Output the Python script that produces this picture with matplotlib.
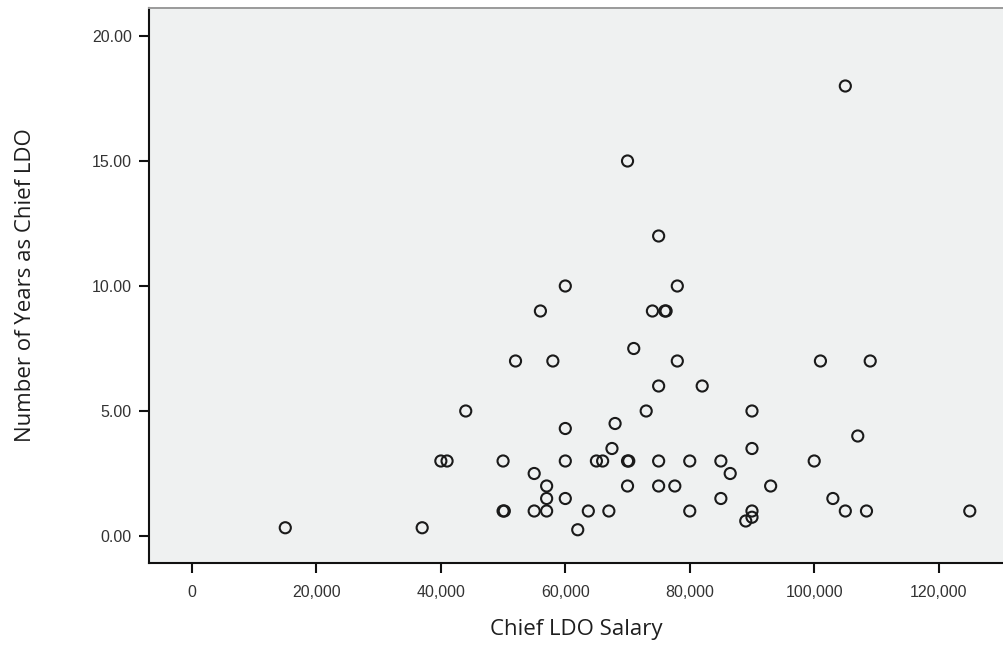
import matplotlib
matplotlib.use("Agg")
import matplotlib.pyplot as plt
from matplotlib.ticker import FuncFormatter

# Chief LDO salary vs years in the job
salary = [15000, 37000, 40000, 41000, 44000, 50000, 50000, 50200, 52000,
          55000, 55000, 56000, 57000, 57000, 57000, 58000, 60000, 60000,
          60000, 60000, 62000, 63700, 65000, 66000, 67000, 67500, 68000,
          70000, 70000, 70200, 70000, 71000, 73000, 74000, 76000, 76200,
          75000, 75000, 75000, 75000, 77600, 78000, 78000, 80000, 80000,
          82000, 85000, 85000, 86500, 89000, 90000, 90000, 90000, 90000,
          93000, 100000, 101000, 103000, 105000, 105000, 107000, 108400,
          109000, 125000]
years = [0.33, 0.33, 3, 3, 5, 3, 1, 1, 7,
         2.5, 1, 9, 2, 1.5, 1, 7, 10, 4.3,
         3, 1.5, 0.25, 1, 3, 3, 1, 3.5, 4.5,
         15, 3, 3, 2, 7.5, 5, 9, 9, 9,
         12, 6, 3, 2, 2, 10, 7, 3, 1,
         6, 3, 1.5, 2.5, 0.6, 5, 3.5, 1, 0.75,
         2, 3, 7, 1.5, 18, 1, 4, 1,
         7, 1]

x_ticks = [0, 20000, 40000, 60000, 80000, 100000, 120000]
y_ticks = [0, 5, 10, 15, 20]

fig = plt.figure(figsize=(10.04, 6.47), dpi=100)
ax = fig.add_axes([149 / 1004, 1 - 563 / 647, 1 - 149 / 1004, (563 - 8) / 647])
ax.set_facecolor("#eff1f1")

ax.scatter(salary, years, s=64, facecolors="none", edgecolors="#1a1a1a",
           linewidths=1.5, zorder=3)

ax.set_xlim(-6900, 130500)
ax.set_ylim(-1.08, 21.12)
ax.set_xticks(x_ticks)
ax.set_yticks(y_ticks)
ax.xaxis.set_major_formatter(FuncFormatter(lambda v, p: f"{int(v):,}"))
ax.yaxis.set_major_formatter(FuncFormatter(lambda v, p: f"{v:.2f}"))

ax.spines["right"].set_visible(False)
ax.spines["top"].set_color("#9a9a9a")
ax.spines["top"].set_linewidth(1.4)
for side in ("left", "bottom"):
    ax.spines[side].set_color("#111111")
    ax.spines[side].set_linewidth(1.5)

ax.tick_params(axis="both", direction="out", length=7.5, width=1.5,
               color="#111111", labelcolor="#333333", labelsize=11.5)
ax.tick_params(axis="y", pad=5)
ax.tick_params(axis="x", pad=8.5)
for lab in ax.get_xticklabels() + ax.get_yticklabels():
    lab.set_family(["Liberation Sans", "DejaVu Sans"])

label_font = ["Liberation Sans Narrow", "Open Sans", "DejaVu Sans"]
ax.set_xlabel("Chief LDO Salary", family=label_font, fontsize=16,
              color="#1e1e1e", va="center")
ax.xaxis.set_label_coords(0.5, (563 - 629) / 555)
ax.set_ylabel("Number of Years as Chief LDO", family=label_font, fontsize=16,
              color="#1e1e1e", va="center")
ax.yaxis.set_label_coords((25 - 149) / 855, 0.5)

fig.savefig("out.png", dpi=100)
